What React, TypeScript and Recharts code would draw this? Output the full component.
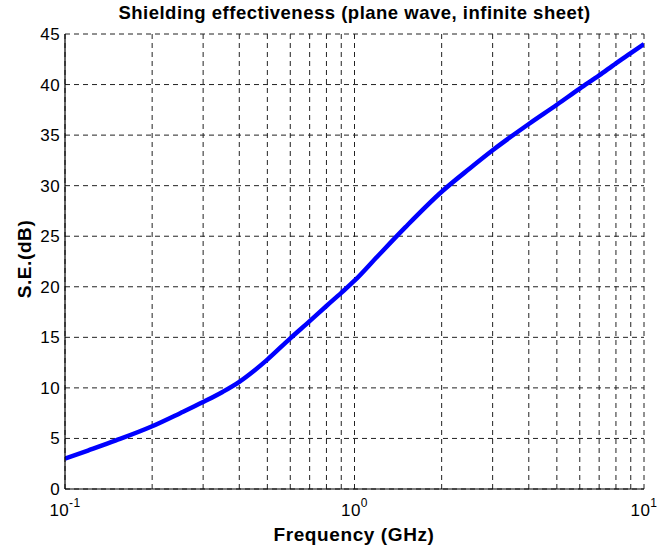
import { LineChart, Line, XAxis, YAxis, CartesianGrid } from "recharts";

const frequency = [
  0.1, 0.12, 0.15, 0.2, 0.25, 0.3, 0.35, 0.4, 0.45, 0.5, 0.6, 0.7, 0.8, 0.9, 1,
  1.2, 1.5, 2, 2.5, 3, 4, 5, 6, 7, 8, 9, 10,
];
const shielding = [
  3.0, 3.8, 4.8, 6.2, 7.5, 8.6, 9.6, 10.6, 11.7, 12.8, 14.9, 16.6, 18.1, 19.4,
  20.6, 23.0, 25.9, 29.4, 31.7, 33.5, 36.1, 38.0, 39.6, 40.9, 42.1, 43.1, 44.0,
];
const xTicks = [
  0.1, 0.2, 0.3, 0.4, 0.5, 0.6, 0.7, 0.8, 0.9, 1, 2, 3, 4, 5, 6, 7, 8, 9, 10,
];
const xLabelled = [0.1, 1, 10];
const yTicks = [0, 5, 10, 15, 20, 25, 30, 35, 40, 45];

const data = frequency.map((f, i) => ({ f, se: shielding[i] }));

const FONT = "'Liberation Sans', Arial, Helvetica, sans-serif";

// MATLAB style 10^n labels, only on the decades
const DecadeTick = (props: any) => {
  const { x, y, payload } = props;
  const v = payload.value;
  if (!xLabelled.includes(v)) return <g />;
  const exp = Math.round(Math.log10(v));
  return (
    <g transform={`translate(${x},${y})`}>
      <text
        x={0}
        y={19}
        textAnchor="middle"
        fontSize={17}
        letterSpacing={0.4}
        fontFamily={FONT}
        fill="#000"
      >
        10
        <tspan dy={-9} fontSize={12}>
          {exp}
        </tspan>
      </text>
    </g>
  );
};

export default function App() {
  return (
    <div
      style={{
        position: "absolute",
        left: 0,
        top: 0,
        width: 667,
        height: 550,
        background: "#fff",
        fontFamily: FONT,
      }}
    >
      <div
        style={{
          position: "absolute",
          top: 2,
          left: 65,
          width: 579,
          textAlign: "center",
          fontSize: 18.5,
          letterSpacing: 0.5,
          fontWeight: "bold",
          lineHeight: "22px",
          color: "#000",
          whiteSpace: "nowrap",
        }}
      >
        Shielding effectiveness (plane wave, infinite sheet)
      </div>
      <LineChart
        width={667}
        height={550}
        data={data}
        margin={{ top: 34, right: 23, bottom: 31, left: 15 }}
      >
        <CartesianGrid stroke="#222" strokeDasharray="5 4" />
        <XAxis
          dataKey="f"
          type="number"
          scale="log"
          domain={[0.1, 10]}
          ticks={xTicks}
          interval={0}
          allowDataOverflow
          height={30}
          tick={<DecadeTick />}
          tickLine={false}
          axisLine={{ stroke: "#000", strokeWidth: 1.2 }}
          label={{
            content: () => (
              <text
                x={354}
                y={541}
                textAnchor="middle"
                fontSize={19}
                letterSpacing={0.6}
                fontWeight="bold"
                fill="#000"
                fontFamily={FONT}
              >
                Frequency (GHz)
              </text>
            ),
          }}
        />
        <XAxis
          xAxisId="top"
          orientation="top"
          dataKey="f"
          type="number"
          scale="log"
          domain={[0.1, 10]}
          height={0}
          tick={false}
          tickLine={false}
          axisLine={{ stroke: "#000", strokeWidth: 1.2 }}
        />
        <YAxis
          type="number"
          domain={[0, 45]}
          ticks={yTicks}
          interval={0}
          width={50}
          tickLine={false}
          tickSize={0}
          tickMargin={5}
          axisLine={{ stroke: "#000", strokeWidth: 1.2 }}
          tick={{ fontSize: 17, fill: "#000", fontFamily: FONT, letterSpacing: 0.4 }}
          label={{
            content: () => (
              <text
                x={31}
                y={259}
                transform="rotate(-90 31 259)"
                textAnchor="middle"
                fontSize={19}
                letterSpacing={0.6}
                fontWeight="bold"
                fill="#000"
                fontFamily={FONT}
              >
                S.E.(dB)
              </text>
            ),
          }}
        />
        <YAxis
          yAxisId="right"
          orientation="right"
          type="number"
          domain={[0, 45]}
          width={0}
          tick={false}
          tickLine={false}
          axisLine={{ stroke: "#000", strokeWidth: 1.2 }}
        />
        <Line
          dataKey="se"
          type="monotone"
          stroke="#0000ff"
          strokeWidth={4.5}
          dot={false}
          isAnimationActive={false}
        />
      </LineChart>
    </div>
  );
}
